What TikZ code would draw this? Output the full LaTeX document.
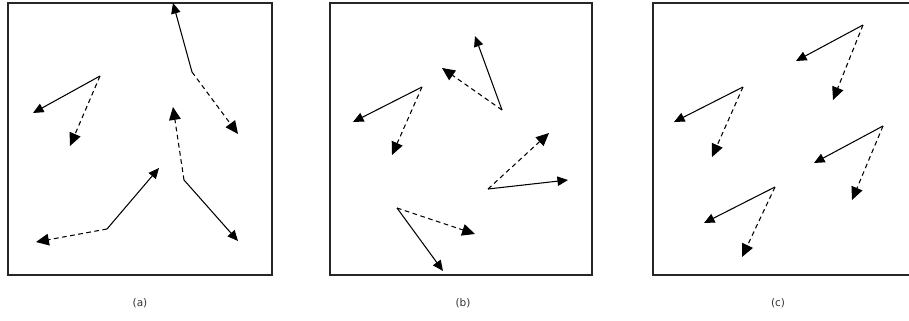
\documentclass[tikz,border=0pt]{standalone}
\usepackage{fontspec}
\setsansfont{DejaVu Sans}
\usetikzlibrary{arrows.meta}
\tikzset{
    frame/.style   = {draw=black!85, line width=1.4pt},
    solidvec/.style = {-{Triangle[length=9pt, width=8pt]}, line width=0.9pt, black},
    dashvec/.style  = {-{Triangle[length=11pt, width=10pt]}, line width=0.9pt, black,
                       dash pattern=on 4pt off 3pt},
    caption/.style = {font=\sffamily\small, text=black!80},
}

\begin{document}
\begin{tikzpicture}[x=0.03cm, y=-0.03cm]
        \useasboundingbox (0,0) rectangle (909,321);
        \clip (0,0) rectangle (909,321);
        % frames and captions
        \draw[frame] (8,3) rectangle (272,275);
        \draw[frame] (330,3) rectangle (592,275);
        \draw[frame] (653,3) rectangle (915,275);
        \node[caption] (capa) at (140,303) {(a)};
        \node[caption] (capb) at (463,303) {(b)};
        \node[caption] (capc) at (778,303) {(c)};
        % panel (a)
        \coordinate (a1) at (100,76);  \coordinate (a1s) at (33,113);  \coordinate (a1d) at (70,146);
        \coordinate (a2) at (192,72);  \coordinate (a2s) at (173,3);   \coordinate (a2d) at (238,134);
        \coordinate (a3) at (184,180); \coordinate (a3s) at (238,241); \coordinate (a3d) at (173,107);
        \coordinate (a4) at (107,229); \coordinate (a4s) at (159,168); \coordinate (a4d) at (36,242);
        % panel (b)
        \coordinate (b1) at (422,87);  \coordinate (b1s) at (353,122); \coordinate (b1d) at (392,155);
        \coordinate (b2) at (502,110); \coordinate (b2s) at (475,36);  \coordinate (b2d) at (442,68);
        \coordinate (b3) at (488,189); \coordinate (b3s) at (568,180); \coordinate (b3d) at (549,133);
        \coordinate (b4) at (397,208); \coordinate (b4s) at (443,271); \coordinate (b4d) at (475,234);
        % panel (c)
        \coordinate (c1) at (863,25);  \coordinate (c1s) at (796,61);  \coordinate (c1d) at (833,100);
        \coordinate (c2) at (743,87);  \coordinate (c2s) at (674,122); \coordinate (c2d) at (712,157);
        \coordinate (c3) at (883,126); \coordinate (c3s) at (814,163); \coordinate (c3d) at (852,200);
        \coordinate (c4) at (775,187); \coordinate (c4s) at (704,223); \coordinate (c4d) at (742,257);
        % vectors
        \foreach \p in {a1,a2,a3,a4,b1,b2,b3,b4,c1,c2,c3,c4} {
            \draw[solidvec] (\p) -- (\p s);
            \draw[dashvec] (\p) -- (\p d);
        }
    \end{tikzpicture}
\end{document}
